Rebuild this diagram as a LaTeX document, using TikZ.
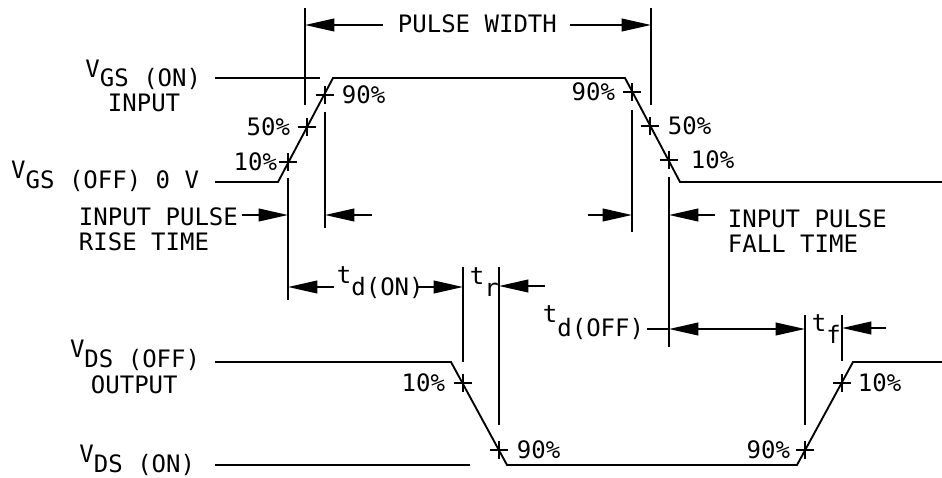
\documentclass[tikz,border=0pt]{standalone}
\usepackage{fontspec}
\setmainfont{DejaVu Sans Mono}
\usetikzlibrary{arrows.meta}
\begin{document}
\begin{tikzpicture}[x=0.75pt,y=-0.75pt,line width=1.4pt,
  lbl/.style={inner sep=0pt,font=\fontsize{18}{22}\selectfont},
  dimarrow/.style={-{Triangle[length=22pt,width=9.5pt]}},
  ddimarrow/.style={{Triangle[length=22pt,width=9.5pt]}-{Triangle[length=22pt,width=9.5pt]}},
  tickplus/.pic={\draw (-9,0)--(9,0) (0,-9)--(0,9);}]
\useasboundingbox (0,0) rectangle (942,478);

% ---------------- input waveform ----------------
\coordinate (iA) at (215,182);
\coordinate (iB) at (278,182);
\coordinate (iC) at (333,78);
\coordinate (iD) at (625,78);
\coordinate (iE) at (680,182);
\coordinate (iF) at (942,182);
\coordinate (onA) at (215,78);
\coordinate (onB) at (320,78);
\draw (iA) -- (iB) -- (iC) -- (iD) -- (iE) -- (iF);
\draw (onA) -- (onB);

\pic at (288,162) {tickplus};
\pic at (307,127) {tickplus};
\pic at (325,95) {tickplus};
\pic at (632,92) {tickplus};
\pic at (650,126) {tickplus};
\pic at (669,160) {tickplus};

\node[lbl,anchor=east] (pi10) at (278,162) {10\%};
\node[lbl,anchor=east] (pi50) at (291,127) {50\%};
\node[lbl,anchor=west] (pi90) at (341,95) {90\%};
\node[lbl,anchor=east] (pf90) at (616,92) {90\%};
\node[lbl,anchor=west] (pf50) at (667,126) {50\%};
\node[lbl,anchor=west] (pf10) at (690,160) {10\%};

% left labels
\node[lbl,anchor=base east] (vgson) at (202,87) {\raisebox{0.4em}{V}GS (ON)};
\node[lbl,anchor=base west] (input) at (107,112) {INPUT};
\node[lbl,anchor=base east] (vgsoff) at (200,188) {\raisebox{0.4em}{V}GS (OFF) 0 V};
\node[lbl,anchor=base west] (iprise) at (78,225) {INPUT PULSE};
\node[lbl,anchor=base west] (rise) at (78,250) {RISE TIME};
\node[lbl,anchor=base east] (vdsoff) at (201,367) {\raisebox{0.4em}{V}DS (OFF)};
\node[lbl,anchor=base west] (output) at (90,393) {OUTPUT};
\node[lbl,anchor=base east] (vdson) at (196,472) {\raisebox{0.4em}{V}DS (ON)};

% pulse width
\coordinate (pwLt) at (305,8);
\coordinate (pwLb) at (305,105);
\coordinate (pwRt) at (651,8);
\coordinate (pwRb) at (651,105);
\draw (pwLt) -- (pwLb);
\draw (pwRt) -- (pwRb);
\node[lbl,anchor=base west] (pw) at (397,33) {PULSE WIDTH};
\coordinate (pwA1) at (383,25);
\coordinate (pwA1t) at (305,25);
\coordinate (pwA2) at (570,25);
\coordinate (pwA2t) at (651,25);
\draw[dimarrow] (pwA1) -- (pwA1t);
\draw[dimarrow] (pwA2) -- (pwA2t);

% rise time dims
\coordinate (r1t) at (288,178);
\coordinate (r1b) at (288,300);
\coordinate (r2t) at (325,112);
\coordinate (r2b) at (325,228);
\draw (r1t) -- (r1b);
\draw (r2t) -- (r2b);
\coordinate (ra1) at (242,215);
\coordinate (ra1t) at (288,215);
\coordinate (ra2) at (372,215);
\coordinate (ra2t) at (325,215);
\draw[dimarrow] (ra1) -- (ra1t);
\draw[dimarrow] (ra2) -- (ra2t);

% fall time dims
\coordinate (f1t) at (632,110);
\coordinate (f1b) at (632,232);
\coordinate (f2t) at (669,177);
\coordinate (f2b) at (669,347);
\draw (f1t) -- (f1b);
\draw (f2t) -- (f2b);
\coordinate (fa1) at (588,215);
\coordinate (fa1t) at (632,215);
\coordinate (fa2) at (715,215);
\coordinate (fa2t) at (669,215);
\draw[dimarrow] (fa1) -- (fa1t);
\draw[dimarrow] (fa2) -- (fa2t);
\node[lbl,anchor=base west] (ipfall) at (727,227) {INPUT PULSE};
\node[lbl,anchor=base west] (fall) at (727,252) {FALL TIME};

% ---------------- output waveform ----------------
\coordinate (oA) at (215,362);
\coordinate (oB) at (451,362);
\coordinate (oC) at (507,465);
\coordinate (oD) at (797,465);
\coordinate (oE) at (853,362);
\coordinate (oF) at (942,362);
\coordinate (dsonA) at (215,465);
\coordinate (dsonB) at (470,465);
\draw (oA) -- (oB) -- (oC) -- (oD) -- (oE) -- (oF);
\draw (dsonA) -- (dsonB);

\pic at (463,383) {tickplus};
\pic at (499,450) {tickplus};
\pic at (805,450) {tickplus};
\pic at (842,383) {tickplus};

\node[lbl,anchor=east] (po10) at (446,383) {10\%};
\node[lbl,anchor=west] (po90) at (516,450) {90\%};
\node[lbl,anchor=east] (pr90) at (791,450) {90\%};
\node[lbl,anchor=west] (pr10) at (857,383) {10\%};

% t_d(on)
\node[lbl,anchor=base west] (tdon) at (336,283) {t\raisebox{-0.5em}{d(ON)}};
\coordinate (tr1t) at (463,267);
\coordinate (tr1b) at (463,362);
\coordinate (tr2t) at (499,267);
\coordinate (tr2b) at (499,425);
\draw (tr1t) -- (tr1b);
\draw (tr2t) -- (tr2b);
\coordinate (tdA1) at (334,287);
\coordinate (tdA1t) at (288,287);
\coordinate (tdA2) at (418,287);
\coordinate (tdA2t) at (463,287);
\draw[dimarrow] (tdA1) -- (tdA1t);
\draw[dimarrow] (tdA2) -- (tdA2t);

% t_r
\node[lbl,anchor=base west] (tr) at (469,284) {t\raisebox{-0.5em}{r}};
\coordinate (trA) at (545,286);
\coordinate (trAt) at (499,286);
\draw[dimarrow] (trA) -- (trAt);

% t_d(off)
\node[lbl,anchor=base west] (tdoff) at (542,322) {t\raisebox{-0.6em}{d(OFF)}};
\coordinate (ldr) at (647,329);
\coordinate (tdoA) at (669,329);
\coordinate (tdoB) at (805,329);
\draw (ldr) -- (tdoA);
\draw[ddimarrow] (tdoA) -- (tdoB);

% t_f
\coordinate (tf1t) at (805,315);
\coordinate (tf1b) at (805,425);
\coordinate (tf2t) at (842,315);
\coordinate (tf2b) at (842,361);
\draw (tf1t) -- (tf1b);
\draw (tf2t) -- (tf2b);
\node[lbl,anchor=base west] (tf) at (811,331) {t\raisebox{-0.5em}{f}};
\coordinate (tfA) at (886,328);
\coordinate (tfAt) at (842,328);
\draw[dimarrow] (tfA) -- (tfAt);
\end{tikzpicture}
\end{document}
